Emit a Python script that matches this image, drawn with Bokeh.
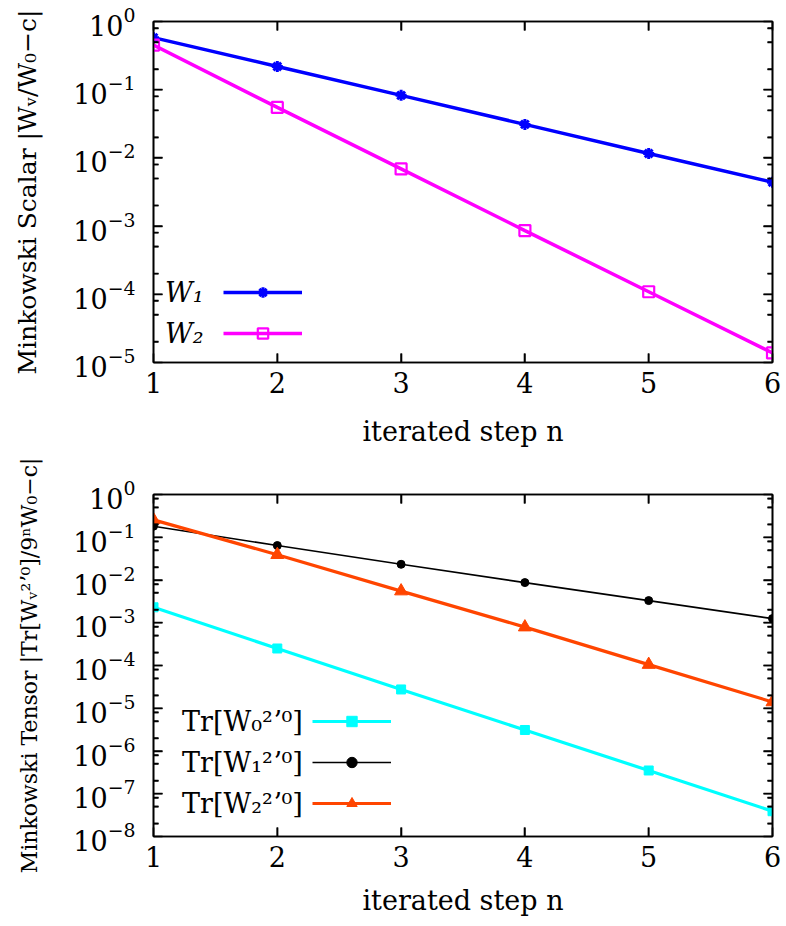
from bokeh.plotting import figure
from bokeh.layouts import column
from bokeh.models import (Range1d, Legend, LegendItem, FixedTicker, LinearAxis, LogAxis,
                          CustomJSTickFormatter)
from bokeh.embed import file_html
from bokeh.resources import INLINE

# ---------------- data ----------------
steps = [1, 2, 3, 4, 5, 6]
x_ticks = [1, 2, 3, 4, 5, 6]

w1 = [0.58, 0.219, 0.0826, 0.031, 0.0116, 0.0044]
w2 = [0.45, 0.055, 0.0069, 8.6e-4, 1.09e-4, 1.38e-5]

tr0 = [2.3e-3, 2.5e-4, 2.75e-5, 3.1e-6, 3.5e-7, 3.9e-8]
tr1 = [0.181, 0.064, 0.0233, 0.0087, 3.3e-3, 1.25e-3]
tr2 = [0.255, 0.039, 5.5e-3, 7.9e-4, 1.05e-4, 1.4e-5]

top_decades = [1e-5, 1e-4, 1e-3, 1e-2, 1e-1, 1e0]
bottom_decades = [1e-8, 1e-7, 1e-6, 1e-5, 1e-4, 1e-3, 1e-2, 1e-1, 1e0]
minor_mantissas = [2, 5, 8]

top_ylabel = "Minkowski Scalar |Wᵥ/W₀−c|"
bottom_ylabel = "Minkowski Tensor |Tr[Wᵥ²ʼ⁰]/9ⁿW₀−c|"
xlabel = "iterated step n"
top_names = ["W₁", "W₂"]
bottom_names = ["Tr[W₀²ʼ⁰]", "Tr[W₁²ʼ⁰]", "Tr[W₂²ʼ⁰]"]

FONT = "DejaVu Serif"
FS = "27px"
W = 786
BL, BR = 153, 14          # left / right borders
FRAME_W = W - BL - BR
TICK_MAJOR, TICK_MINOR = 9, 5


def minors_of(decades):
    return [m * d for d in decades[:-1] for m in minor_mantissas]


def make_fig(decades, height, b_top, b_bottom, ylabel, ylabel_fs, xlabel_standoff):
    p = figure(width=W, height=height,
               x_range=Range1d(steps[0], steps[-1]),
               y_range=Range1d(decades[0], decades[-1]),
               y_axis_type="log", output_backend="svg", toolbar_location=None,
               min_border_left=BL, min_border_right=BR,
               min_border_top=b_top, min_border_bottom=b_bottom)
    p.grid.visible = False
    p.outline_line_color = "black"
    p.outline_line_width = 1.6
    p.background_fill_color = "white"
    p.border_fill_color = "white"

    # mirrored axes carrying only tick marks
    blank = CustomJSTickFormatter(code="return ''")
    p.add_layout(LinearAxis(formatter=blank), "above")
    p.add_layout(LogAxis(formatter=CustomJSTickFormatter(code="return ''")), "right")

    p.xaxis.ticker = FixedTicker(ticks=x_ticks, minor_ticks=[])
    p.yaxis.ticker = FixedTicker(ticks=decades, minor_ticks=minors_of(decades))

    for ax in p.xaxis + p.yaxis:
        ax.axis_line_color = "black"
        ax.axis_line_width = 1.6
        ax.major_tick_line_color = "black"
        ax.minor_tick_line_color = "black"
        ax.major_tick_line_width = 1.6
        ax.minor_tick_line_width = 1.6
        ax.major_tick_in = TICK_MAJOR
        ax.major_tick_out = 0
        ax.minor_tick_in = TICK_MINOR
        ax.minor_tick_out = 0
        ax.major_label_text_font = FONT
        ax.major_label_text_font_size = FS
        ax.major_label_text_color = "black"
        ax.axis_label_text_font = FONT
        ax.axis_label_text_font_style = "normal"
        ax.axis_label_text_color = "black"

    for ax in (p.above[0], p.right[0]):
        ax.major_label_text_font_size = "1px"
        ax.major_label_standoff = 0

    bx = p.below[0]
    bx.axis_label = xlabel
    bx.axis_label_text_font_size = FS
    bx.major_label_standoff = 9
    bx.axis_label_standoff = xlabel_standoff

    ly = p.left[0]
    ly.axis_label = ylabel
    ly.axis_label_text_font_size = ylabel_fs
    ly.major_label_standoff = 18
    ly.axis_label_standoff = 28
    return p


def add_frame_ticks(p, decades, height, b_top, b_bottom):
    # the same inward tick marks, also drawn as segments along the frame edges
    frame_h = height - b_top - b_bottom
    px_per_x = FRAME_W / (steps[-1] - steps[0])
    px_per_dec = frame_h / (len(decades) - 1)
    ymin, ymax = decades[0], decades[-1]
    xa, xb = steps[0], steps[-1]
    tk = dict(line_color="black", line_width=1.6)
    for length, yt in ((TICK_MAJOR, list(decades[1:-1])), (TICK_MINOR, minors_of(decades))):
        dx = length / px_per_x
        k = len(yt)
        p.segment(x0=[xa] * k, y0=list(yt), x1=[xa + dx] * k, y1=list(yt), **tk)
        p.segment(x0=[xb] * k, y0=list(yt), x1=[xb - dx] * k, y1=list(yt), **tk)
    xt = x_ticks[1:-1]
    f = 10 ** (TICK_MAJOR / px_per_dec)
    k = len(xt)
    p.segment(x0=list(xt), y0=[ymin] * k, x1=list(xt), y1=[ymin * f] * k, **tk)
    p.segment(x0=list(xt), y0=[ymax] * k, x1=list(xt), y1=[ymax / f] * k, **tk)


def legends(p, names, rends, label_x, glyph_x, y_center, italic):
    text_leg = Legend(items=[LegendItem(label=n, renderers=[r[0]]) for n, r in zip(names, rends)],
                      location=(label_x, y_center - 18), orientation="vertical",
                      glyph_width=0, glyph_height=36, label_height=36, spacing=5,
                      label_standoff=0, padding=0,
                      background_fill_alpha=0, border_line_alpha=0,
                      label_text_font=FONT, label_text_font_size=FS, label_text_color="black",
                      label_text_font_style="italic" if italic else "normal")
    glyph_leg = Legend(items=[LegendItem(label="", renderers=list(r)) for r in rends],
                       location=(glyph_x, y_center - 13), orientation="vertical",
                       glyph_width=79, glyph_height=26, label_height=26, spacing=15,
                       label_standoff=0, label_width=0, padding=0,
                       background_fill_alpha=0, border_line_alpha=0,
                       label_text_font=FONT, label_text_font_size="10px")
    p.add_layout(text_leg)
    p.add_layout(glyph_leg)


# ---------------- top panel ----------------
p1 = make_fig(top_decades, 452, 21, 90, top_ylabel, "25px", 20)
l1 = p1.line(steps, w1, line_color="#0000ff", line_width=3.5)
s1 = p1.scatter(steps, w1, marker="asterisk", size=11, line_color="#0000ff", line_width=3)
l2 = p1.line(steps, w2, line_color="#ff00ff", line_width=3.5)
s2 = p1.scatter(steps, w2, marker="square", size=11, line_color="#ff00ff", line_width=2.2,
                fill_alpha=0)
add_frame_ticks(p1, top_decades, 452, 21, 90)
legends(p1, top_names, [(l1, s1), (l2, s2)], 12, 70, 29, True)

# ---------------- bottom panel ----------------
p2 = make_fig(bottom_decades, 474, 42, 90, bottom_ylabel, "22px", 15)
m0 = p2.line(steps, tr0, line_color="#00ffff", line_width=3.2)
n0 = p2.scatter(steps, tr0, marker="square", size=9, color="#00ffff")
m1 = p2.line(steps, tr1, line_color="black", line_width=1.6)
n1 = p2.scatter(steps, tr1, marker="circle", size=8, color="black")
m2 = p2.line(steps, tr2, line_color="#ff4500", line_width=3.2)
n2 = p2.scatter(steps, tr2, marker="triangle", size=13, color="#ff4500")
add_frame_ticks(p2, bottom_decades, 474, 42, 90)
legends(p2, bottom_names, [(m0, n0), (m1, n1), (m2, n2)], 29, 159, 33, False)

layout = column(p1, p2, spacing=0)
open("out.html", "w").write(file_html(layout, INLINE))
